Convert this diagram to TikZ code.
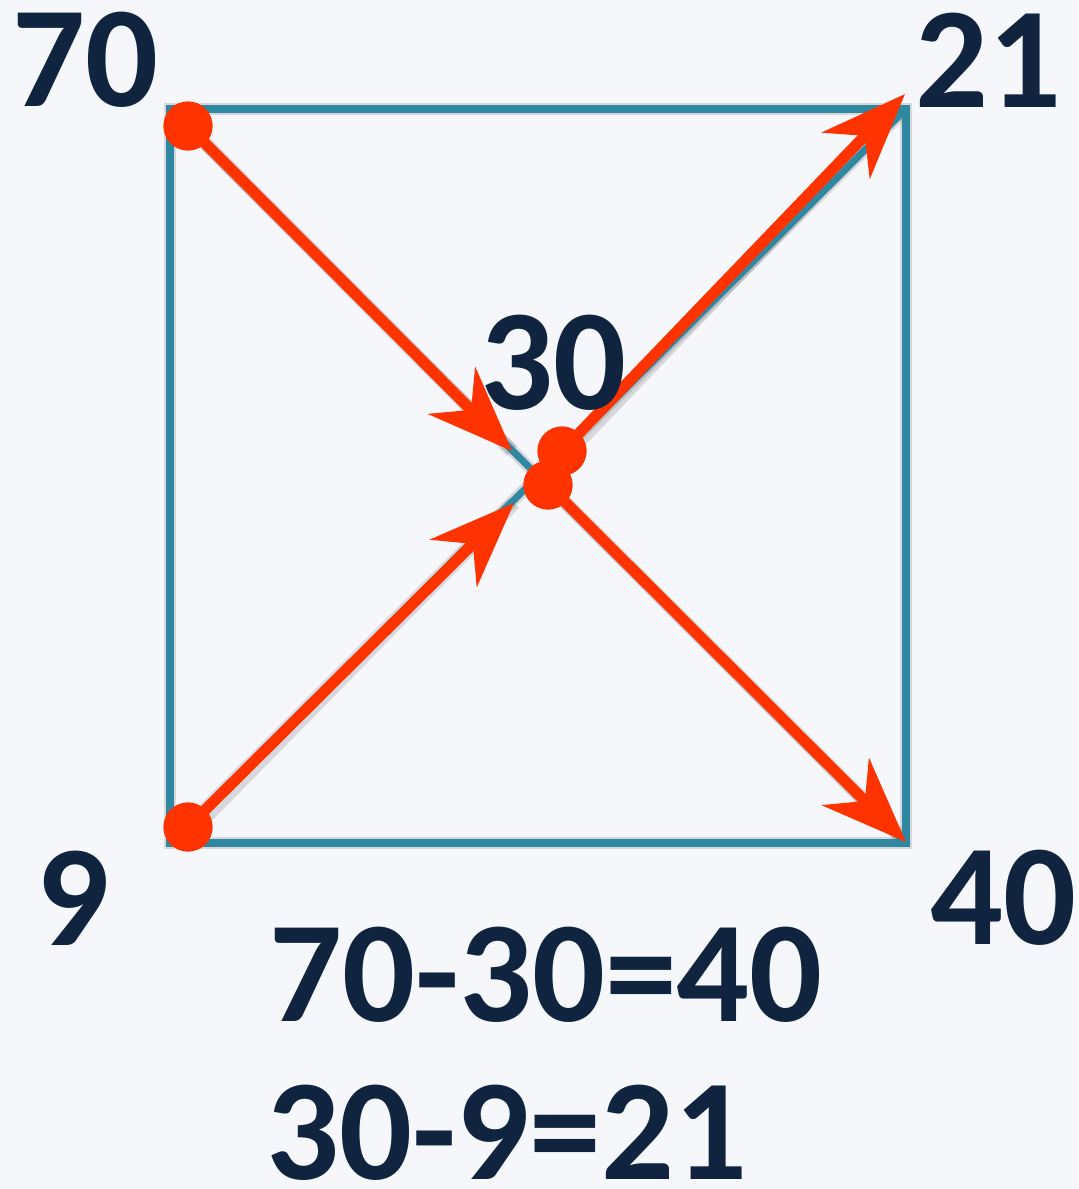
\documentclass[tikz,border=0pt]{standalone}
\usepackage{fontspec}
\setmainfont{Carlito}
\usetikzlibrary{arrows.meta}
\definecolor{bg}{HTML}{F5F7FB}
\definecolor{tealc}{HTML}{2F87A0}
\definecolor{redc}{HTML}{FF3300}
\definecolor{ink}{HTML}{10243F}
\begin{document}
\begin{tikzpicture}[x=0.5pt,y=-0.5pt,
  lbl/.style={font=\bfseries\fontsize{72}{80}\selectfont, text=ink, inner sep=0pt},
  dot/.style={circle, fill=redc, minimum size=24.5pt, inner sep=0pt},
  redarrow/.style={draw=redc, line width=5.5pt, -{Stealth[length=42.5pt,width=33pt,inset=13.5pt]}},
  tealline/.style={draw=tealc, line width=4pt},
  shadowline/.style={draw=black, opacity=0.12, line width=6pt}]
\fill[bg] (0,0) rectangle (1078,1189);
\useasboundingbox (0,0) rectangle (1078,1189);
% corners
\coordinate (tl) at (170,109);
\coordinate (tr) at (906,109);
\coordinate (bl) at (170,843);
\coordinate (br) at (906,843);
% arrow tips
\coordinate (t1) at (512,451);
\coordinate (t2) at (514,503);
\coordinate (t3) at (905,94);
\coordinate (t4) at (906,842);
% shadows
\begin{scope}[shift={(4,4)}]
  \draw[shadowline] (tl) rectangle (br);
  \draw[shadowline] (tl) -- (br);
  \draw[shadowline] (bl) -- (tr);
  \draw[shadowline,line width=7pt] (188,126) -- (t1);
  \draw[shadowline,line width=7pt] (188,827) -- (t2);
  \draw[shadowline,line width=7pt] (562,451) -- (895,104);
  \draw[shadowline,line width=7pt] (548,485) -- (896,832);
\end{scope}
% square and diagonals
\draw[tealline] (tl) rectangle (br);
\draw[tealline, line width=3.5pt] (tl) -- (br);
\draw[tealline, line width=3.5pt] (bl) -- (tr);
% dots
\node[dot] (d1) at (188,126) {};
\node[dot] (d2) at (188,827) {};
\node[dot] (d4) at (548,485) {};
\node[dot] (d3) at (562,451) {};
% arrows
\draw[redarrow] (d1.center) -- (t1);
\draw[redarrow] (d2.center) -- (t2);
\draw[redarrow] (d3.center) -- (t3);
\draw[redarrow] (d4.center) -- (t4);
% redraw dots on top
\node[dot] at (d1) {};
\node[dot] at (d2) {};
\node[dot] at (d4) {};
\node[dot] at (d3) {};
% labels
\node[lbl] (l70) at (85,60) {70};
\node[lbl] (l21) at (988,60) {21};
\node[lbl] (l30) at (553,363) {30};
\node[lbl] (l9) at (73,898) {9};
\node[lbl] (l40) at (1003,898) {40};
\node[lbl] (e1) at (546,975) {70-30=40};
\node[lbl] (e2) at (507,1133) {30-9=21};
\end{tikzpicture}
\end{document}
